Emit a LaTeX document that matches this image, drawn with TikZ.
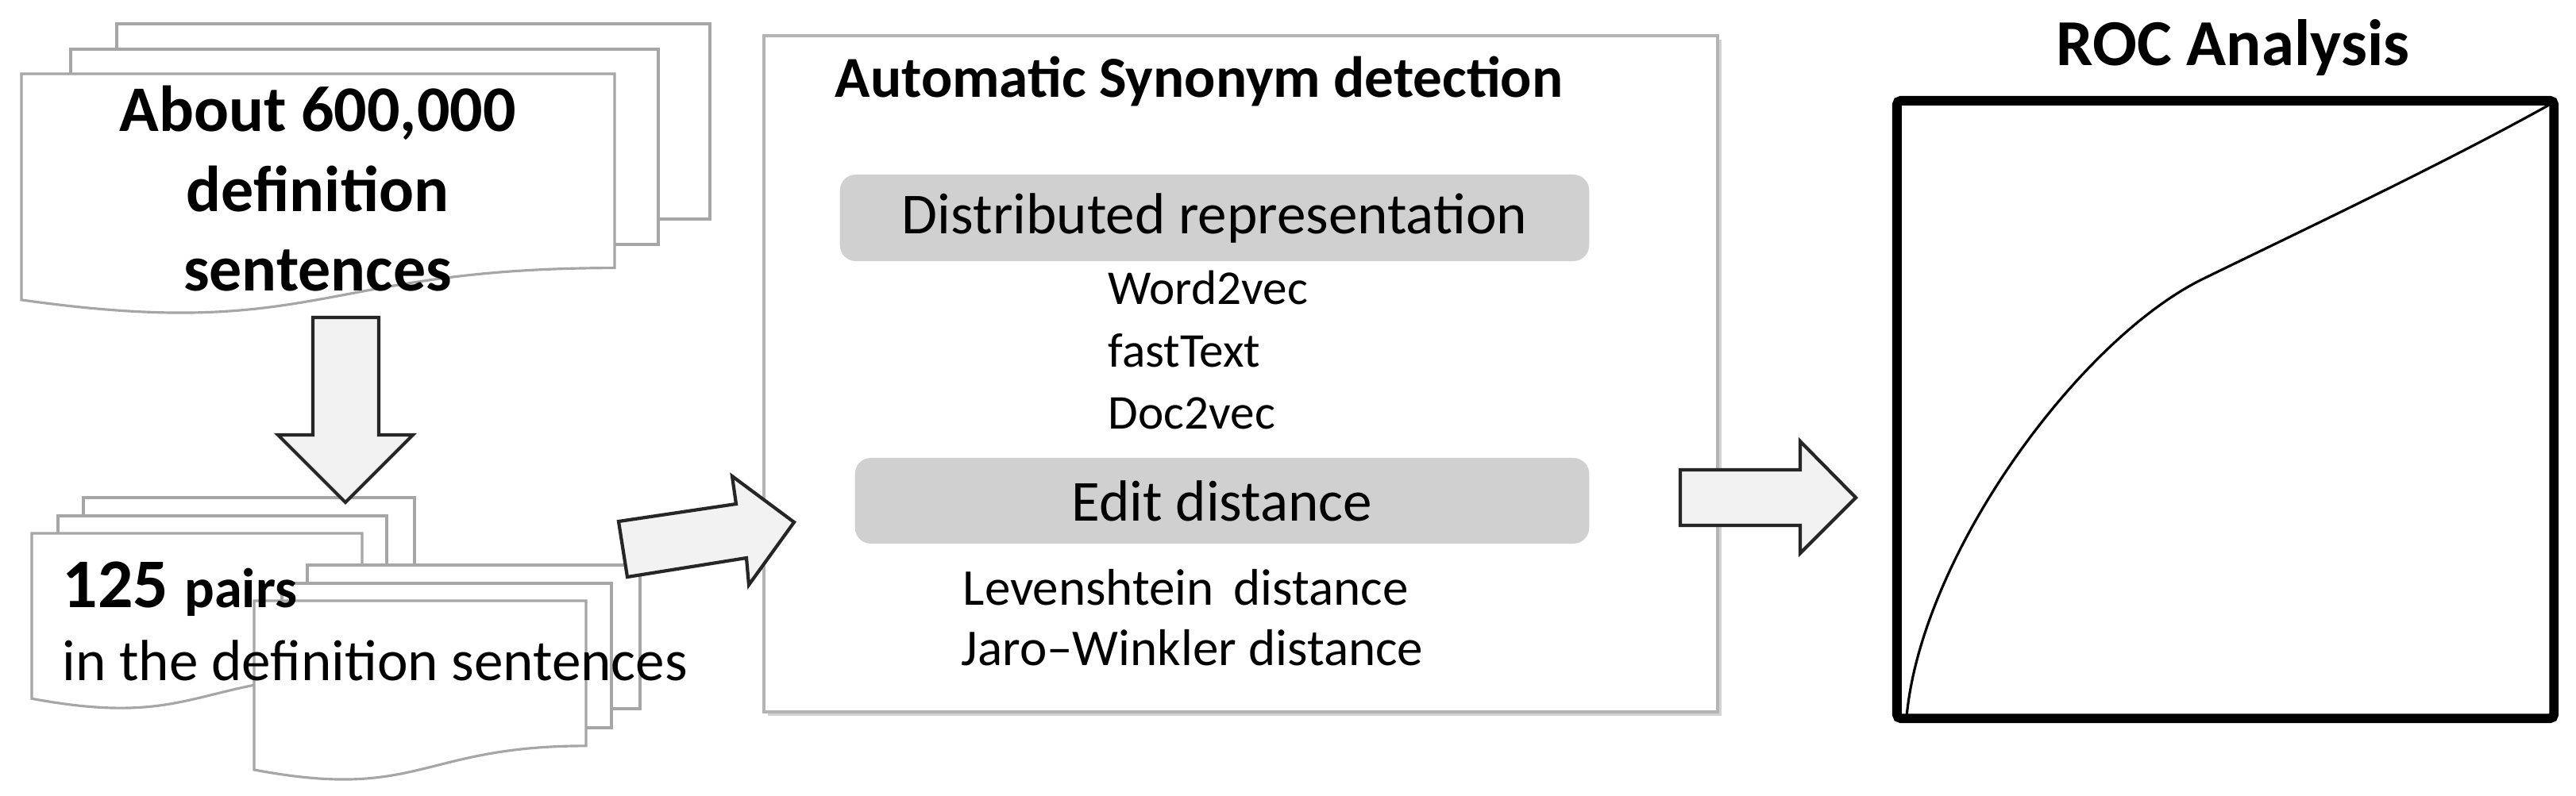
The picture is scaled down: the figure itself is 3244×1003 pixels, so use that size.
\documentclass[tikz,border=0pt]{standalone}
\usepackage{fontspec}
\setmainfont{Carlito}
\usetikzlibrary{shadows}
\definecolor{pageline}{HTML}{A6A6A6}
\definecolor{arrowfill}{HTML}{F2F2F2}
\definecolor{tagfill}{HTML}{D0D0D0}
\definecolor{boxline}{HTML}{B4B4B4}

% one page with a wavy bottom: x, y, width, height
\newcommand{\docpage}[4]{%
  \draw[page] (#1,#2) -- (#1+#3,#2) -- (#1+#3,#2+0.802*#4)
    .. controls (#1+0.5*#3,#2+0.802*#4) and (#1+0.5*#3,#2+1.107*#4) .. (#1,#2+0.934*#4) -- cycle;}

\begin{document}
\begin{tikzpicture}[x=0.01cm,y=-0.01cm,
    page/.style={draw=pageline,fill=white,line width=0.9pt},
    blockarrow/.style={draw=black!85,fill=arrowfill,line width=1.2pt,line join=miter},
    txt/.style={inner sep=0pt,anchor=base west},
    bigbold/.style={inner sep=0pt,anchor=base,font=\fontsize{23.3}{28}\selectfont\bfseries},
    titlebold/.style={font=\fontsize{20.8}{25}\selectfont\bfseries},
    tagtext/.style={font=\fontsize{20.8}{25}\selectfont},
    listtext/.style={font=\fontsize{17.4}{21}\selectfont},
    tag/.style={fill=tagfill,rounded corners=0.2cm,inner sep=0pt,font=\fontsize{20.8}{25}\selectfont}]
  \useasboundingbox (0,0) rectangle (3244,1003);

  % the dictionary
  \draw[page] (147,30) rectangle (894,276);
  \draw[page] (89,62) rectangle (829,308);
  \docpage{27}{93}{747}{305}
  \node[bigbold] (s1) at (400,166) {About 600,000};
  \node[bigbold] (s2) at (400,266) {definition};
  \node[bigbold] (s3) at (400,366) {sentences};

  % the pairs
  \draw[page] (105,627) rectangle (522,806);
  \draw[page] (73,650) rectangle (487,829);
  \docpage{40}{672}{416}{223}
  \draw[page] (387,712) rectangle (806,893);
  \draw[page] (355,735) rectangle (770,917);
  \docpage{320}{757}{418}{228}
  \node[txt] (p1) at (78,765) {\fontsize{25}{30}\selectfont\bfseries 125 {\fontsize{20}{24}\selectfont pairs}};
  \node[txt,tagtext] (p2) at (78,857) {in the definition sentences};

  % detection
  \node[draw=boxline,line width=1.1pt,fill=white,inner sep=0pt,
        drop shadow={shadow xshift=0.05cm,shadow yshift=-0.05cm,opacity=0.35},
        minimum width=12.01cm,minimum height=8.52cm] (detect) at (1562.5,471) {};
  \node[txt,titlebold] (dtitle) at (1051,122) {Automatic Synonym detection};
  \node[tag,minimum width=9.43cm,minimum height=1.09cm] (dist) at (1529.5,274.5) {Distributed representation};
  \node[txt,listtext] (w1) at (1395,383) {Word2vec};
  \node[txt,listtext] (w2) at (1395,462) {fastText};
  \node[txt,listtext] (w3) at (1395,540) {Doc2vec};
  \node[tag,minimum width=9.24cm,minimum height=1.08cm] (edit) at (1539,631) {Edit distance};
  \node[txt,font=\fontsize{18.5}{22}\selectfont] (e1) at (1212,762) {Levenshtein\hspace{0.15em} distance};
  \node[txt,font=\fontsize{18.5}{22}\selectfont] (e2) at (1210,838) {Jaro–Winkler distance};

  % block arrows
  \draw[blockarrow] (394,400) -- (477,400) -- (477,548) -- (520,548) -- (435,633)
    -- (350,548) -- (394,548) -- cycle;
  \draw[blockarrow] (779,657) -- (927,635) -- (922,600) -- (1000,658) -- (943,737)
    -- (940,703) -- (790,727) -- cycle;
  \draw[blockarrow] (2116,592) -- (2267,592) -- (2267,556) -- (2337,627) -- (2267,697)
    -- (2267,662) -- (2116,662) -- cycle;

  % ROC
  \node[inner sep=0pt,anchor=base,font=\fontsize{23.5}{28}\selectfont\bfseries] (roctitle) at (2812,82) {ROC Analysis};
  \node[draw,line width=3.4pt,rounded corners=1.5pt,inner sep=0pt,
        minimum width=8.27cm,minimum height=7.78cm] (roc) at (2802.5,516) {};
  \draw[line width=0.9pt] (2401,903) .. controls (2420,700) and (2615,432) .. (2771,353)
    .. controls (2900,290) and (3080,205) .. (3214,130);
\end{tikzpicture}
\end{document}
